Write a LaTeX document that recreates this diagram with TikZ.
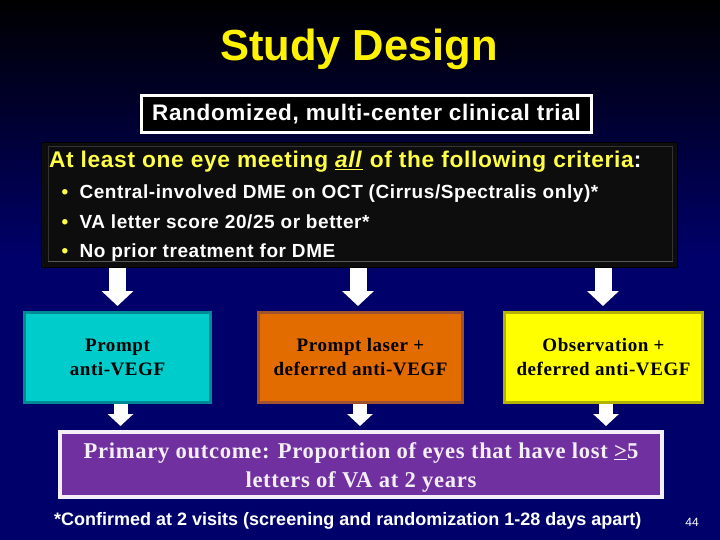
\documentclass[tikz,border=0pt]{standalone}
\usepackage{fontspec}
\setmainfont{Liberation Sans}
\newfontfamily\serifbold[LetterSpace=3]{Liberation Serif}
\newfontfamily\sansbold[LetterSpace=3]{Liberation Sans}
\usetikzlibrary{positioning,arrows.meta}
\definecolor{navybg}{HTML}{00006B}
\definecolor{tealbox}{HTML}{00CCCC}
\definecolor{tealedge}{HTML}{008A96}
\definecolor{orangebox}{HTML}{E36C00}
\definecolor{orangeedge}{HTML}{A0522D}
\definecolor{yellowbox}{HTML}{FFFF00}
\definecolor{yellowedge}{HTML}{B4B400}
\definecolor{purplebox}{HTML}{7030A0}
\definecolor{yellowtext}{HTML}{FFFF44}
\tikzset{%
  armbox/.style   = { fill = #1box, draw = #1edge, line width = 3pt, align = center, text = black,
    minimum height = 90pt, font = \fontsize{19}{24}\selectfont\serifbold\bfseries },
  bigarrow/.style = { -{Triangle[width=31pt,length=15pt]}, line width = 17pt, draw = white },
  smallarrow/.style = { -{Triangle[width=25pt,length=12pt]}, line width = 14pt, draw = white },
  crittext/.style = { anchor = base west, text = white, font = \fontsize{19}{23}\selectfont\sansbold\bfseries },
  critdot/.style  = { anchor = base, text = yellowtext, font = \fontsize{19}{23}\selectfont\bfseries },
}
\begin{document}
\begin{tikzpicture}[x=1pt, y=-1pt]
    \useasboundingbox (0,0) rectangle (720,540);
    % background -----------------------------------------------------------------------------------
    \fill[navybg] (0,0) rectangle (720,540);
    \shade[top color=black, bottom color=navybg] (0,0) rectangle (720,260);
    % nodes ----------------------------------------------------------------------------------------
    \node(title) [anchor=base, text=yellow, font=\fontsize{43.5}{50}\selectfont\bfseries] at (359,61) {Study Design};
    \node(trial) [fill=black, draw=white, line width=3pt, text=white, minimum width=450pt, minimum height=37pt,
      font=\fontsize{22.5}{26}\selectfont\sansbold\bfseries] at (366.5,114) {Randomized, multi-center clinical trial};
    % criteria box
    \node(criteria) [fill=black!95!white, draw=black, line width=1pt, minimum width=636pt, minimum height=125pt] at (359.5,205) {};
    \node(inner) [draw=black!80!white, line width=1pt, minimum width=624pt, minimum height=114pt] at (360,204) {};
    \draw[black!65!white, line width=1.5pt] (inner.south west) -- (inner.south east);
    \node(crithead) [anchor=base west, text=yellowtext, font=\fontsize{22.7}{26}\selectfont\sansbold\bfseries] at (45.5,168)
      {At least one eye meeting \underline{\textit{all}} of the following criteria\textcolor{white}{:}};
    \node(dot1) [critdot] at (65,199) {\textbullet};
    \node(dot2) [critdot] at (65,229) {\textbullet};
    \node(dot3) [critdot] at (65,258) {\textbullet};
    \node(crit1) [crittext] at (76,199) {Central-involved DME on OCT (Cirrus/Spectralis only)*};
    \node(crit2) [crittext] at (76,229) {VA letter score 20/25 or better*};
    \node(crit3) [crittext] at (76,258) {No prior treatment for DME};
    % three arms
    \node(teal) [armbox=teal, minimum width=186pt] at (117.5,357.5) {Prompt\\anti-VEGF};
    \node(orange) [armbox=orange, minimum width=204pt, right = 45pt of teal] {Prompt laser +\\deferred anti-VEGF};
    \node(yellow) [armbox=yellow, minimum width=198pt, right = 39pt of orange] {Observation +\\deferred anti-VEGF};
    % outcome box
    \node(outcome) [fill=purplebox, draw=white!92!purplebox, line width=4pt, align=center, text=white!92!purplebox, minimum width=602pt, minimum height=65pt,
      font=\fontsize{22.6}{29}\selectfont\serifbold\bfseries] at (361,464.5)
      {\rule{0pt}{21pt}Primary outcome: Proportion of eyes that have lost \underline{>}5\\letters of VA at 2 years};
    % footnote and page number
    \node(note) [anchor=base west, text=white, font=\fontsize{18}{22}\selectfont\bfseries, inner sep=0pt] at (54,525)
      {*Confirmed at 2 visits (screening and randomization 1-28 days apart)};
    \node(page) [anchor=base, text=white, font=\fontsize{12}{14}\selectfont] at (692,526) {44};
    % arrow ends
    \coordinate(a1) at (117.5,268);
    \coordinate(a2) at (358,268);
    \coordinate(a3) at (603,268);
    \coordinate(b1) at (120.5,404);
    \coordinate(b2) at (360,404);
    \coordinate(b3) at (606,404);
    % arrows ---------------------------------------------------------------------------------------
    % criteria to arms
    \draw[bigarrow, shorten >=5pt] (a1) -- (teal.north -| a1);
    \draw[bigarrow, shorten >=5pt] (a2) -- (orange.north -| a2);
    \draw[bigarrow, shorten >=5pt] (a3) -- (yellow.north -| a3);
    % arms to outcome
    \draw[smallarrow, shorten >=4pt] (b1) -- (outcome.north -| b1);
    \draw[smallarrow, shorten >=4pt] (b2) -- (outcome.north -| b2);
    \draw[smallarrow, shorten >=4pt] (b3) -- (outcome.north -| b3);
\end{tikzpicture}
\end{document}
